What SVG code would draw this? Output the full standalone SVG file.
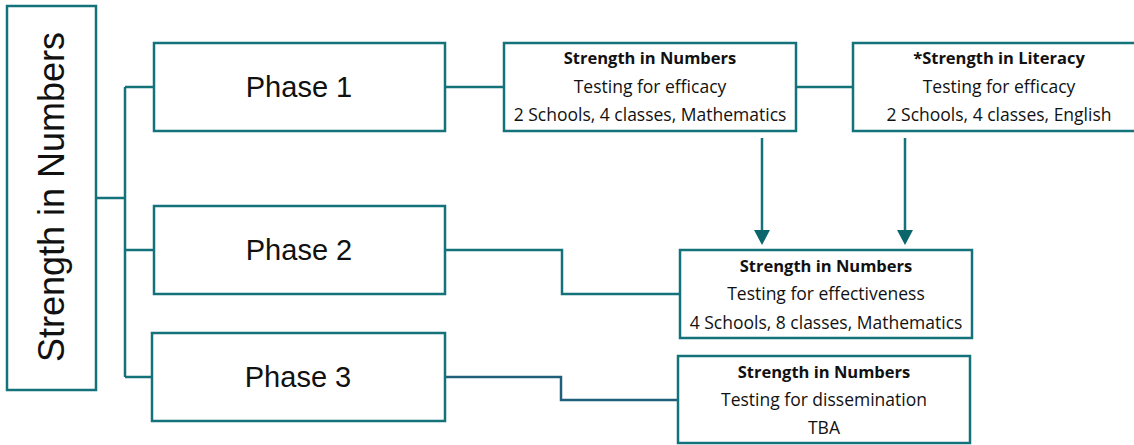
<svg xmlns="http://www.w3.org/2000/svg" width="1134" height="445" viewBox="0 0 1134 445">
<style>
.box{fill:#fff;stroke:#14737a;stroke-width:2.5}
.ln{fill:none;stroke:#14737a;stroke-width:2.5}
.ph{font-family:"Liberation Sans",Arial,sans-serif;font-size:29px;fill:#111;text-anchor:middle}
.t{font-family:"Open Sans","Liberation Sans",sans-serif;font-size:17.5px;fill:#111;text-anchor:middle}
.b{font-weight:bold;font-size:16.5px}
</style>
<g id="connectors">
<path class="ln" d="M96,198 H125 M125,87 V377 M125,87 H154 M125,250 H154 M125,377 H152"/>
<path class="ln" d="M445,87 H504 M796,87 H853"/>
<path class="ln" d="M445,250 H562 V294 H680"/>
<path class="ln" d="M445,377 H561 V400 H678" style="stroke:#1f5f7a"/>
<g fill="#0b666b">
<path class="ln" d="M762,138 V232"/>
<path d="M754,230 L770,230 L762,245 Z"/>
<path class="ln" d="M905,138 V232"/>
<path d="M897,230 L913,230 L905,245 Z"/>
</g>
</g>
<g id="root">
<rect class="box" x="7" y="6" width="89" height="384"/>
<text class="ph" transform="translate(64,197) rotate(-90)" style="font-size:36px">Strength in Numbers</text>
</g>
<g id="phase1">
<rect class="box" x="154" y="43" width="291" height="88"/>
<text class="ph" x="299" y="97">Phase 1</text>
</g>
<g id="phase2">
<rect class="box" x="154" y="206" width="291" height="88"/>
<text class="ph" x="299" y="260">Phase 2</text>
</g>
<g id="phase3">
<rect class="box" x="152" y="333" width="293" height="88"/>
<text class="ph" x="298" y="387">Phase 3</text>
</g>
<g id="sin1">
<rect class="box" x="504" y="43" width="292" height="88"/>
<text class="t b" x="650" y="64">Strength in Numbers</text>
<text class="t" x="650" y="93">Testing for efficacy</text>
<text class="t" x="650" y="121">2 Schools, 4 classes, Mathematics</text>
</g>
<g id="sil">
<rect class="box" x="853" y="43" width="290" height="88"/>
<text class="t b" x="999" y="64">*Strength in Literacy</text>
<text class="t" x="999" y="93">Testing for efficacy</text>
<text class="t" x="999" y="121">2 Schools, 4 classes, English</text>
</g>
<g id="sin2">
<rect class="box" x="680" y="250" width="292" height="88"/>
<text class="t b" x="826" y="272">Strength in Numbers</text>
<text class="t" x="826" y="300">Testing for effectiveness</text>
<text class="t" x="826" y="329">4 Schools, 8 classes, Mathematics</text>
</g>
<g id="sin3">
<rect class="box" x="678" y="356" width="292" height="87"/>
<text class="t b" x="824" y="378">Strength in Numbers</text>
<text class="t" x="824" y="406">Testing for dissemination</text>
<text class="t" x="824" y="434">TBA</text>
</g>
</svg>
